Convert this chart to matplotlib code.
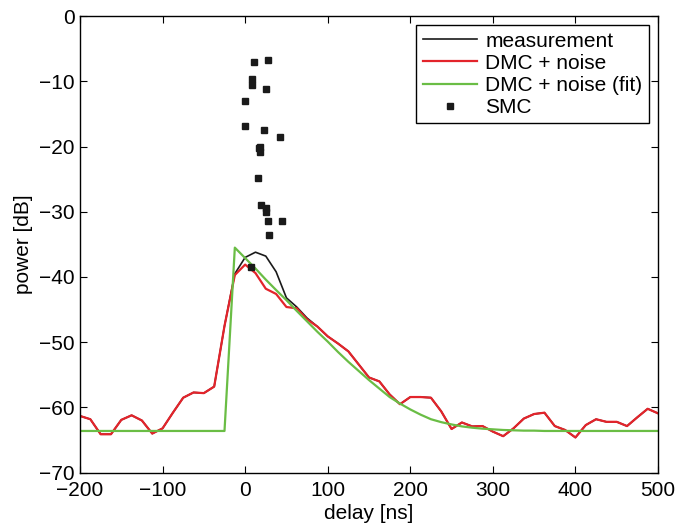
import matplotlib
matplotlib.use('Agg')
import matplotlib.pyplot as plt
import numpy as np

plt.rcParams['font.family'] = ['Liberation Sans', 'DejaVu Sans']

# delay grid [ns], 12.5 ns spacing
delay = np.arange(-200, 500.1, 12.5)

# DMC + noise (red)
dmc_noise = [-61.3, -61.8, -64.1, -64.1, -61.9, -61.2, -62.0, -64.0, -63.2, -60.8,
             -58.5, -57.7, -57.8, -56.8, -47.5, -39.7,
             -38.1, -39.4, -41.8, -42.6, -44.6, -44.8, -46.5, -47.6, -49.1, -50.2,
             -51.4, -53.4, -55.4, -56.0, -58.0, -59.5, -58.4, -58.4, -58.5, -60.6,
             -63.3, -62.3, -62.9, -62.85, -63.7, -64.4, -63.2, -61.7, -61.0, -60.8,
             -62.85, -63.45, -64.6, -62.7, -61.8, -62.2, -62.2, -62.85, -61.5, -60.2,
             -60.9]

# measurement (black), differs from red only around the peak
measurement = list(dmc_noise)
measurement[15:23] = [-39.5, -37.0, -36.2, -36.8, -39.2, -43.2, -44.6, -46.3]

# DMC + noise (fit) (green)
dmc_fit = [-63.6] * 15 + [
    -35.5, -37.1, -38.7, -40.4, -42.0, -43.55, -45.2, -46.8, -48.4, -49.9,
    -51.5, -53.0, -54.4, -55.8, -57.1, -58.4, -59.4, -60.3, -61.1, -61.8,
    -62.25, -62.6, -62.9, -63.1, -63.25, -63.35, -63.45, -63.5, -63.55, -63.55,
    -63.6, -63.6, -63.6, -63.6, -63.6, -63.6, -63.6, -63.6, -63.6, -63.6,
    -63.6, -63.6]

# SMC paths
smc_delay = [11.1, 28.1, 8.7, 8.7, 25.6, -0.2, -0.2, 22.8, 41.8, 18.0, 18.4, 17.0,
             16.0, 19.2, 25.3, 25.3, 27.7, 45.0, 28.9, 7.1]
smc_power = [-7.1, -6.8, -9.6, -10.5, -11.2, -13.0, -16.9, -17.5, -18.5, -20.0, -20.8,
             -20.3, -24.9, -29.0, -29.5, -30.1, -31.4, -31.4, -33.5, -38.5]

fs = 15

fig = plt.figure(figsize=(6.78, 5.27), dpi=100)
ax = fig.add_axes([0.118, 0.103, 0.8525, 0.8666])

ax.plot(delay, measurement, color='#1a1a1a', lw=1.2, label='measurement')
ax.plot(delay, dmc_noise, color='#e3242b', lw=1.6, label='DMC + noise')
ax.plot(delay, dmc_fit, color='#6abd45', lw=1.6, label='DMC + noise (fit)')
ax.plot(smc_delay, smc_power, 's', color='#1a1a1a', ms=3.8, ls='none', label='SMC')

ax.set_xlim(-200, 500)
ax.set_ylim(-70, 0)
ax.set_xticks(np.arange(-200, 501, 100))
ax.set_yticks(np.arange(-70, 1, 10))
ax.tick_params(direction='in', top=True, right=True, length=5, labelsize=fs, width=0.8)
ax.tick_params(axis='x', pad=6)
ax.tick_params(axis='y', pad=4)
for s in ax.spines.values():
    s.set_linewidth(1.0)

ax.set_xlabel('delay [ns]', fontsize=fs, labelpad=3)
ax.set_ylabel('power [dB]', fontsize=fs, labelpad=4)

leg = ax.legend(loc='upper right', fontsize=fs, fancybox=False, framealpha=1,
                edgecolor='black', handlelength=2.6, labelspacing=0.15,
                borderaxespad=0.45, handletextpad=0.4, borderpad=0.3)
leg.get_frame().set_linewidth(1.0)

fig.savefig('out.png', dpi=100)
